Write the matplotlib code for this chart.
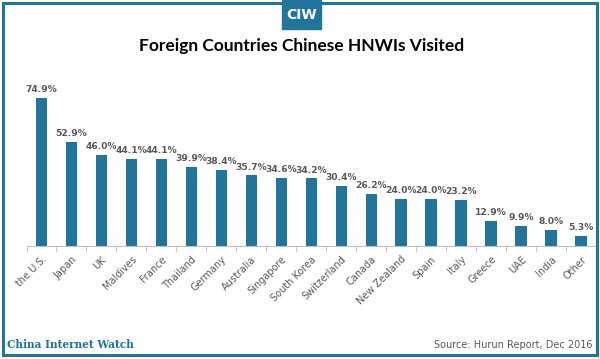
import matplotlib.pyplot as plt
from matplotlib.patches import Rectangle
import numpy as np

countries = ["the U.S.", "Japan", "UK", "Maldives", "France", "Thailand", "Germany",
             "Australia", "Singapore", "South Korea", "Switzerland", "Canada",
             "New Zealand", "Spain", "Italy", "Greece", "UAE", "India", "Other"]
shares = [74.9, 52.9, 46.0, 44.1, 44.1, 39.9, 38.4, 35.7, 34.6, 34.2, 30.4,
          26.2, 24.0, 24.0, 23.2, 12.9, 9.9, 8.0, 5.3]

teal = "#21759b"
gray = "#595959"

fig = plt.figure(figsize=(6, 3.59), dpi=100)
ax = fig.add_axes([26.5 / 600, 113 / 359, (596 - 26.5) / 600, (246 - 88) / 359])

x = np.arange(len(countries))
ax.bar(x, shares, width=0.38, color=teal, zorder=2)
for xi, v in zip(x, shares):
    ax.text(xi, v + 2.0, f"{v:.1f}%", ha="center", va="bottom",
            fontsize=6.6, color=gray, fontweight="semibold")

ax.set_xlim(-0.5, len(countries) - 0.5)
ax.set_ylim(0, 80)
ax.set_yticks([])
ax.set_xticks(x)
ax.set_xticklabels(countries, rotation=45, ha="right", rotation_mode="anchor",
                   fontsize=7, color=gray)
ax.tick_params(axis="x", which="major", length=0, pad=6)
ax.set_xticks(np.arange(-0.5, len(countries), 1.0), minor=True)
ax.tick_params(axis="x", which="minor", length=4, color="#bfbfbf")
for s in ["top", "right", "left"]:
    ax.spines[s].set_visible(False)
ax.spines["bottom"].set_color("#bfbfbf")

# frame and header badge
fig.patches.append(Rectangle((3 / 600, 4 / 359), 594 / 600, 352 / 359, transform=fig.transFigure,
                             fill=False, edgecolor=teal, linewidth=2.2))
fig.patches.append(Rectangle((282 / 600, 1 - 29 / 359), 39 / 600, 29 / 359,
                             transform=fig.transFigure, color=teal))
fig.text(301.5 / 600, 1 - 15 / 359, "CIW", ha="center", va="center", color="white",
         fontsize=10, fontweight="bold", fontfamily="DejaVu Sans Condensed")
fig.text(302 / 600, 1 - 46 / 359, "Foreign Countries Chinese HNWIs Visited", ha="center",
         va="center", fontsize=12.5, fontweight="bold", color="black", fontfamily="Lato")
fig.text(7 / 600, 1 - 345 / 359, "China Internet Watch", ha="left", va="center",
         fontsize=7.6, fontweight="bold", color=teal, fontfamily="DejaVu Serif")
fig.text(592 / 600, 1 - 345 / 359, "Source: Hurun Report, Dec 2016", ha="right",
         va="center", fontsize=7, color=gray)

fig.savefig("out.png", dpi=100)
